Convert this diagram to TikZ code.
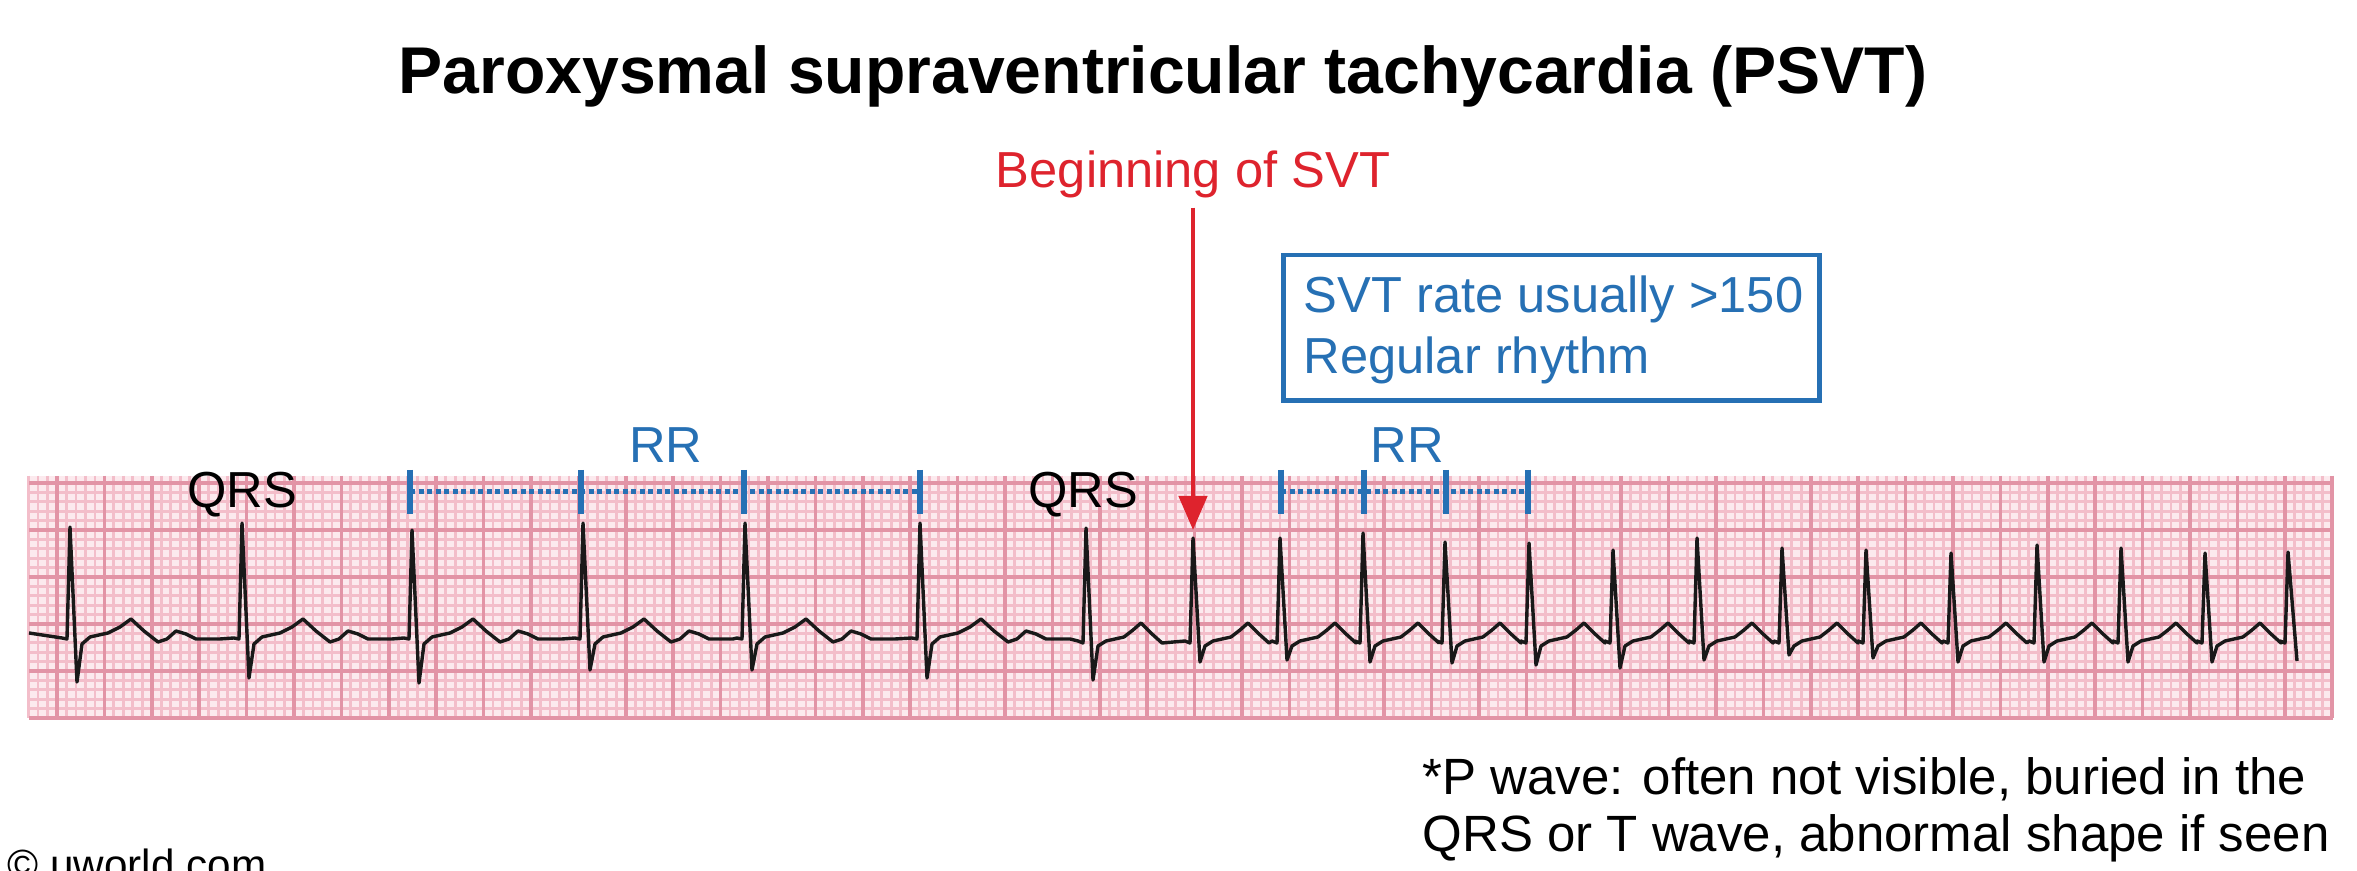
\documentclass[tikz,border=0pt]{standalone}
\usepackage{fontspec}
\setmainfont{Liberation Sans}
\usetikzlibrary{arrows.meta}

\definecolor{svtred}{RGB}{222,35,45}
\definecolor{svtblue}{RGB}{38,112,180}
\definecolor{ecgline}{RGB}{25,25,25}
\definecolor{gridbg}{RGB}{252,234,238}
\definecolor{gridminor}{RGB}{243,190,202}
\definecolor{gridmajor}{RGB}{226,148,166}

\tikzset{
    txt/.style={inner sep=0pt, font=\fontsize{14.4}{17.4}\selectfont},
    bluetxt/.style={txt, text=svtblue},
    minorline/.style={draw=gridminor, line width=0.028cm},
    majorline/.style={draw=gridmajor, line width=0.035cm},
    ecg/.style={draw=ecgline, line width=0.034cm, line join=round},
    rrtick/.style={draw=svtblue, line width=0.055cm},
    rrdots/.style={draw=svtblue, line width=0.05cm, dash pattern=on 0.05cm off 0.035cm},
    svtarrow/.style={draw=svtred, line width=0.045cm, -{Triangle[length=0.34cm,width=0.28cm]}},
}

\begin{document}
\begin{tikzpicture}[x=0.01cm, y=-0.01cm]
    \useasboundingbox[fill=white] (0,0) rectangle (2357,871);

    % Title
    \node[inner sep=0pt, anchor=base, font=\bfseries\fontsize{18.8}{22}\selectfont]
        (title) at (1163,94) {Paroxysmal supraventricular tachycardia (PSVT)};

    % Paper
    \fill[gridbg] (29,476) rectangle (2333,718);
    \foreach \i in {-3,...,240}
    {
      \draw[minorline] ({57+\i*9.48},476) -- ({57+\i*9.48},718);
    }
    \foreach \j in {0,...,25}
    {
      \draw[minorline] (29,{718-\j*9.4}) -- (2333,{718-\j*9.4});
    }
    \foreach \i in {0,...,48}
    {
      \draw[majorline] ({57+\i*47.4},476) -- ({57+\i*47.4},718);
    }
    \foreach \j in {0,...,5}
    {
      \draw[majorline] (29,{718-\j*47}) -- (2333,{718-\j*47});
    }

    % Trace
    \draw[ecg] (29,633)
      \foreach \r/\p/\s in {70/527/682, 242/523/678, 412/530/683,
                            583/523/670, 745/523/670, 920/523/678}
      {
        -- (\r-8,638) -- (\r-3,639) -- (\r,\p) -- (\r+7,\s) -- (\r+12,644)
        -- (\r+20,637) -- (\r+38,633) -- (\r+50,627) -- (\r+61,619)
        -- (\r+74,631) -- (\r+88,642) -- (\r+97,639) -- (\r+106,631)
        -- (\r+116,634) -- (\r+126,639) -- (\r+150,639)
      }
      \foreach \r/\p/\s in {1086/528/680, 1193/538/662, 1280/538/660,
                            1363/533/662, 1445/542/663, 1529/543/665,
                            1613/550/668, 1697/538/660, 1782/548/655,
                            1866/550/658, 1951/553/662, 2037/545/662,
                            2121/548/662, 2205/553/662}
      {
        -- (\r-8,641) -- (\r-3,643) -- (\r,\p) -- (\r+7,\s) -- (\r+12,646)
        -- (\r+20,641) -- (\r+38,637) -- (\r+47,630) -- (\r+55,623)
        -- (\r+66,634) -- (\r+76,643)
      }
      -- (2280,641) -- (2285,643) -- (2288,552) -- (2297,661);

    % QRS labels
    \node[txt, anchor=base] (qrsa) at (242,508) {QRS};
    \node[txt, anchor=base] (qrsb) at (1083,508) {QRS};

    % RR intervals
    \foreach \x [count=\k] in {410,581,744,920}
      \coordinate (rra\k) at (\x,492);
    \foreach \x [count=\k] in {1281,1364,1446,1528}
      \coordinate (rrb\k) at (\x,492);
    \draw[rrdots] (rra1) -- (rra4);
    \draw[rrdots] (rrb1) -- (rrb4);
    \foreach \k in {1,...,4}
    {
      \draw[rrtick] (rra\k) ++(0,-22) -- ++(0,44);
      \draw[rrtick] (rrb\k) ++(0,-22) -- ++(0,44);
    }
    \node[bluetxt, anchor=base] (rrlabela) at (666,463) {RR};
    \node[bluetxt, anchor=base] (rrlabelb) at (1407,463) {RR};

    % Onset
    \node[txt, text=svtred, anchor=base] (svtlabel) at (1193,188) {Beginning of SVT};
    \coordinate (svtonset) at (1193,530);
    \draw[svtarrow, shorten <=0.085cm] (svtlabel.south) -- (svtonset);

    % Rate box
    \node[draw=svtblue, line width=0.045cm, anchor=north west, inner sep=0pt,
          minimum width=5.36cm, minimum height=1.45cm] (ratebox) at (1281,253) {};
    \node[bluetxt, anchor=west, align=left,
          font=\fontsize{14.4}{17.35}\selectfont] (ratetext) at (1303,330)
        {SVT rate usually >150\\Regular rhythm};

    % Note
    \node[txt, anchor=west, align=left,
          font=\fontsize{14.5}{16.2}\selectfont] (note) at (1422,810)
        {*P wave: often not visible, buried in the\\QRS or T wave, abnormal shape if seen};

    % Credit
    \node[inner sep=0pt, anchor=base west, font=\fontsize{12}{14}\selectfont]
        (credit) at (7,880) {© uworld.com};
  \end{tikzpicture}
\end{document}
